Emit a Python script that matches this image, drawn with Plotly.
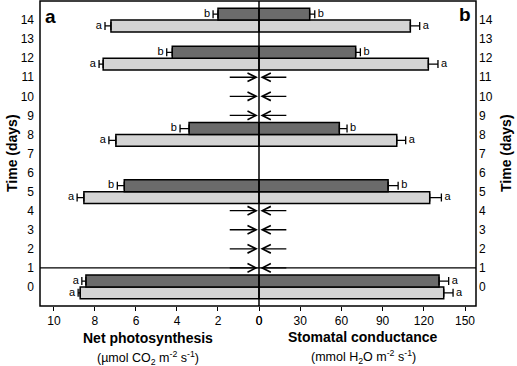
import plotly.graph_objects as go

# ---- data ----
days = [0, 5, 8, 12, 14]
photo_dark = [8.44, 6.57, 3.41, 4.23, 2.0]
photo_dark_err = [0.2, 0.34, 0.44, 0.27, 0.24]
photo_light = [8.72, 8.54, 6.98, 7.6, 7.22]
photo_light_err = [0.1, 0.33, 0.34, 0.2, 0.29]
cond_dark = [131.1, 94.0, 58.5, 70.4, 36.9]
cond_dark_err = [7.0, 7.3, 5.6, 3.4, 3.7]
cond_light = [134.5, 124.3, 100.3, 123.3, 110.2]
cond_light_err = [6.8, 8.5, 6.5, 7.0, 6.8]
letters_dark = ["a", "b", "b", "b", "b"]
letters_light = ["a", "a", "a", "a", "a"]
arrow_days = [1, 2, 3, 4, 9, 10, 11]
y_ticks = list(range(0, 15))
x_ticks_left = [10, 8, 6, 4, 2, 0]
x_ticks_right = [0, 30, 60, 90, 120, 150]

DARK = "#6b6b6b"
LIGHT = "#d4d4d4"
FONT = "Liberation Sans, Arial, sans-serif"
BW = 0.62
L, R, T, B = 40, 41, 1, 60
PW, PH = 517 - L - R, 366 - T - B

def px(x):
    return (x - L) / PW

def py(y):
    return 1 - (y - T) / PH

fig = go.Figure()

def bars(vals, errs, color, offset, xaxis):
    return go.Bar(
        y=days, x=vals, orientation="h", xaxis=xaxis, yaxis="y",
        width=BW, offset=offset,
        marker=dict(color=color, line=dict(color="black", width=1.5)),
        error_x=dict(type="data", array=errs, arrayminus=[0] * len(errs),
                     symmetric=False, color="black", thickness=1.3, width=4),
        showlegend=False, hoverinfo="skip",
    )

fig.add_trace(bars(photo_light, photo_light_err, LIGHT, -BW, "x"))
fig.add_trace(bars(photo_dark, photo_dark_err, DARK, 0, "x"))
fig.add_trace(bars(cond_light, cond_light_err, LIGHT, -BW, "x2"))
fig.add_trace(bars(cond_dark, cond_dark_err, DARK, 0, "x2"))

# letters
def letters(vals, errs, labs, dy, xaxis, pos):
    return go.Scatter(
        x=[v + e for v, e in zip(vals, errs)], y=[d + dy for d in days],
        mode="text", text=[" " + l + " " for l in labs], textposition=pos,
        textfont=dict(family=FONT, size=11, color="black"),
        xaxis=xaxis, yaxis="y", showlegend=False, hoverinfo="skip",
    )

fig.add_trace(letters(photo_light, photo_light_err, letters_light, -BW / 2, "x", "middle left"))
fig.add_trace(letters(photo_dark, photo_dark_err, letters_dark, BW / 2, "x", "middle left"))
fig.add_trace(letters(cond_light, cond_light_err, letters_light, -BW / 2, "x2", "middle right"))
fig.add_trace(letters(cond_dark, cond_dark_err, letters_dark, BW / 2, "x2", "middle right"))

# invisible trace for right y axis
fig.add_trace(go.Scatter(x=[1], y=[0], xaxis="x2", yaxis="y2", mode="markers",
                         marker=dict(opacity=0), showlegend=False, hoverinfo="skip"))

# arrows
for d in arrow_days:
    fig.add_annotation(x=0.05, y=d, ax=1.5, ay=d, xref="x", yref="y", axref="x", ayref="y",
                       showarrow=True, arrowhead=5, arrowsize=1.3, arrowwidth=1.3,
                       arrowcolor="black", text="")
    fig.add_annotation(x=1, y=d, ax=21, ay=d, xref="x2", yref="y", axref="x2", ayref="y",
                       showarrow=True, arrowhead=5, arrowsize=1.3, arrowwidth=1.3,
                       arrowcolor="black", text="")

mid = px(259)
fig.update_layout(
    width=517, height=366,
    margin=dict(l=L, r=R, t=T, b=B, autoexpand=False),
    paper_bgcolor="white", plot_bgcolor="white",
    barmode="overlay",
    font=dict(family=FONT, size=12, color="black"),
    xaxis=dict(domain=[0, mid], range=[10.68, 0], tickvals=x_ticks_left,
               ticks="outside", ticklen=4, tickwidth=1, tickcolor="black",
               showgrid=False, zeroline=False, showline=False,
               tickfont=dict(family=FONT, size=12)),
    xaxis2=dict(domain=[mid, 1], range=[0, 158], tickvals=x_ticks_right,
                ticks="outside", ticklen=4, tickwidth=1, tickcolor="black",
                showgrid=False, zeroline=False, showline=False, anchor="y",
                tickfont=dict(family=FONT, size=12)),
    yaxis=dict(range=[-1, 15], tickvals=y_ticks, ticks="", showgrid=False,
               zeroline=False, showline=False, ticklabelstandoff=5,
               tickfont=dict(family=FONT, size=12)),
    yaxis2=dict(range=[-1, 15], tickvals=y_ticks, ticks="", showgrid=False,
                zeroline=False, showline=False, overlaying="y", side="right",
                anchor="x2", ticklabelstandoff=2, tickfont=dict(family=FONT, size=12)),
    shapes=[
        dict(type="rect", xref="paper", yref="paper", x0=0, x1=1, y0=0, y1=1,
             line=dict(color="black", width=1.5)),
        dict(type="line", xref="paper", yref="paper", x0=mid, x1=mid, y0=0, y1=1,
             line=dict(color="black", width=1.5)),
        dict(type="line", xref="paper", yref="y", x0=0, x1=1, y0=1, y1=1,
             line=dict(color="black", width=1.3)),
    ],
)

ann = [
    dict(text="<b>a</b>", x=50, y=16, size=19),
    dict(text="<b>b</b>", x=465, y=15, size=19),
    dict(text="<b>Net photosynthesis</b>", x=148, y=338, size=14),
    dict(text="(µmol CO<sub>2</sub> m<sup>-2</sup> s<sup>-1</sup>)", x=148, y=358, size=12.5),
    dict(text="<b>Stomatal conductance</b>", x=363, y=337, size=14),
    dict(text="(mmol H<sub>2</sub>O m<sup>-2</sup> s<sup>-1</sup>)", x=363, y=357, size=12.5),
]
for a in ann:
    fig.add_annotation(text=a["text"], x=px(a["x"]), y=py(a["y"]),
                       xref="paper", yref="paper", showarrow=False,
                       xanchor="center", yanchor="middle",
                       font=dict(family=FONT, size=a["size"], color="black"))
for xp in (12, 506):
    fig.add_annotation(text="<b>Time (days)</b>", x=px(xp), y=py(153),
                       xref="paper", yref="paper", showarrow=False, textangle=-90,
                       xanchor="center", yanchor="middle",
                       font=dict(family=FONT, size=14, color="black"))

fig.write_html("out.html", config={"displayModeBar": False},
               post_script="document.body.style.margin='0';")
